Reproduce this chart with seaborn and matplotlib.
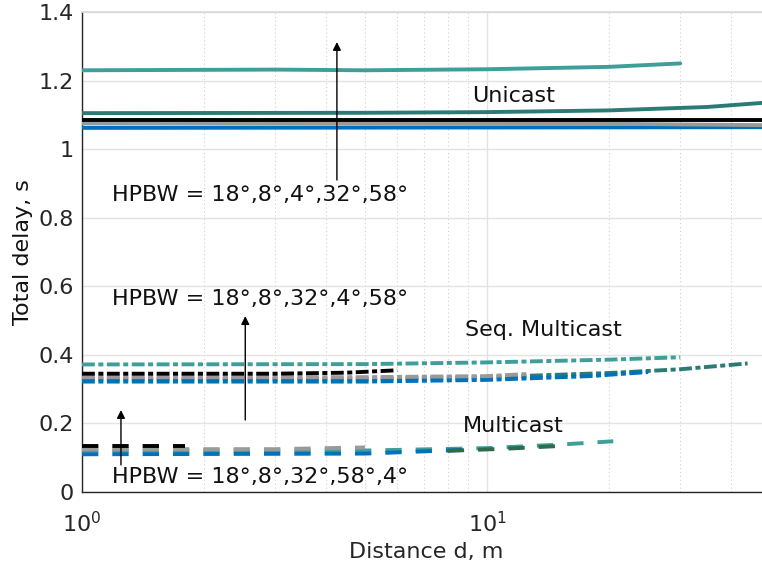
import numpy as np
import pandas as pd
import matplotlib
matplotlib.use("Agg")
import matplotlib.pyplot as plt
import seaborn as sns
from matplotlib.ticker import LogLocator, NullFormatter, FixedLocator

# ---------------- data ----------------
colors = {"teal": "#3d9e9a", "dteal": "#2b7b74", "black": "#000000",
          "gray": "#9a9a9a", "blue": "#0072bd", "dgreen": "#2d6b4c"}

# Unicast (solid)
uni_teal_x = [1, 3, 5, 10, 20, 30]
uni_teal_y = [1.230, 1.232, 1.230, 1.233, 1.240, 1.250]
uni_dteal_x = [1, 5, 10, 20, 35, 48]
uni_dteal_y = [1.105, 1.106, 1.108, 1.113, 1.123, 1.135]
uni_black_x = [1, 48]
uni_black_y = [1.085, 1.085]
uni_gray_x = [1, 20, 48]
uni_gray_y = [1.075, 1.074, 1.070]
uni_blue_x = [1, 48]
uni_blue_y = [1.062, 1.064]

# Seq. Multicast (dash-dot)
seq_teal_x = [1, 5, 10, 20, 30]
seq_teal_y = [0.372, 0.373, 0.378, 0.386, 0.393]
seq_dteal_x = [1, 5, 10, 20, 30, 44]
seq_dteal_y = [0.330, 0.330, 0.335, 0.347, 0.358, 0.375]
seq_black_x = [1, 3, 4.5, 6]
seq_black_y = [0.345, 0.345, 0.348, 0.355]
seq_gray_x = [1, 5, 10, 12.5]
seq_gray_y = [0.335, 0.335, 0.338, 0.344]
seq_blue_x = [1, 5, 10, 18, 25]
seq_blue_y = [0.322, 0.322, 0.327, 0.338, 0.350]

# Multicast (dashed)
mc_teal_x = [1, 5, 10, 15, 20.5]
mc_teal_y = [0.120, 0.121, 0.128, 0.138, 0.148]
mc_black_x = [1, 1.8]
mc_black_y = [0.135, 0.135]
mc_gray_x = [1, 3, 5]
mc_gray_y = [0.125, 0.125, 0.130]
mc_blue_x = [1, 5, 8.8]
mc_blue_y = [0.110, 0.112, 0.123]
mc_dgreen_x = [8, 11, 15]
mc_dgreen_y = [0.120, 0.126, 0.134]

x_ticks = [1, 10]
x_ticklabels = ["$10^0$", "$10^1$"]
y_ticks = [0, 0.2, 0.4, 0.6, 0.8, 1.0, 1.2, 1.4]
y_ticklabels = ["0", "0.2", "0.4", "0.6", "0.8", "1", "1.2", "1.4"]

# ---------------- figure ----------------
sns.set_theme(style="white")
plt.rcParams["font.family"] = ["DejaVu Sans"]

fig = plt.figure(figsize=(7.62, 5.70), dpi=100)
ax = fig.add_axes([82/762, 78/570, (770-82)/762, 480/570])

LW = 2.8
solid = "-"
dashdot = (0, (3.3, 0.9, 1.3, 0.9))
dashed = (0, (4.2, 3.6))

series = [
    (mc_teal_x, mc_teal_y, "teal", dashed),
    (mc_gray_x, mc_gray_y, "gray", dashed),
    (mc_blue_x, mc_blue_y, "blue", dashed),
    (mc_dgreen_x, mc_dgreen_y, "dgreen", dashed),
    (mc_black_x, mc_black_y, "black", dashed),
    (seq_teal_x, seq_teal_y, "teal", dashdot),
    (seq_dteal_x, seq_dteal_y, "dteal", dashdot),
    (seq_blue_x, seq_blue_y, "blue", dashdot),
    (seq_gray_x, seq_gray_y, "gray", dashdot),
    (seq_black_x, seq_black_y, "black", dashdot),
    (uni_teal_x, uni_teal_y, "teal", solid),
    (uni_dteal_x, uni_dteal_y, "dteal", solid),
    (uni_blue_x, uni_blue_y, "blue", solid),
    (uni_gray_x, uni_gray_y, "gray", solid),
    (uni_black_x, uni_black_y, "black", solid),
]
for xs, ys, c, ls in series:
    sns.lineplot(x=xs, y=ys, ax=ax, color=colors[c], linewidth=LW,
                 linestyle=ls, estimator=None, sort=False, zorder=3)

ax.set_xscale("log")
ax.set_xlim(1, 10 ** ((770 - 82) / 405))
ax.set_ylim(0, 1.4)

ax.xaxis.set_major_locator(FixedLocator(x_ticks))
ax.set_xticklabels(x_ticklabels)
ax.xaxis.set_minor_locator(LogLocator(base=10, subs=np.arange(2, 10)))
ax.xaxis.set_minor_formatter(NullFormatter())
ax.set_yticks(y_ticks)
ax.set_yticklabels(y_ticklabels)

ax.tick_params(axis="both", which="major", direction="in", length=6,
               width=1.0, color="#262626", labelsize=16, labelcolor="#262626")
ax.tick_params(axis="x", which="major", pad=14)
ax.tick_params(axis="x", which="minor", direction="in", length=3,
               width=0.8, color="#262626")
ax.tick_params(axis="y", which="major", pad=6)

ax.grid(True, which="major", axis="both", color="#e3e3e3", linewidth=1.0,
        linestyle="-", zorder=0)
ax.grid(True, which="minor", axis="x", color="#cfcfcf", linewidth=0.8,
        linestyle=(0, (1, 2.5)), zorder=0)
ax.set_axisbelow(True)

for s in ["left", "bottom"]:
    ax.spines[s].set_color("#262626")
    ax.spines[s].set_linewidth(1.0)
ax.spines["top"].set_color("#d9d9d9")
ax.spines["right"].set_visible(False)

ax.set_xlabel("Distance d, m", fontsize=16, color="#262626", labelpad=4)
ax.set_ylabel("Total delay, s", fontsize=16, color="#111111", labelpad=4)

# annotations
arrowprops = dict(arrowstyle="-|>", color="black", lw=1.0,
                  mutation_scale=12, shrinkA=0, shrinkB=0)
ax.annotate("", xy=(4.26, 1.3125), xytext=(4.26, 0.91), arrowprops=arrowprops, zorder=5)
ax.annotate("", xy=(2.53, 0.513), xytext=(2.53, 0.21), arrowprops=arrowprops, zorder=5)
ax.annotate("", xy=(1.248, 0.239), xytext=(1.248, 0.079), arrowprops=arrowprops, zorder=5)

tkw = dict(fontsize=16, color="#111111", va="center", ha="left", zorder=6)
ax.text(1.186, 0.866, "HPBW = 18°,8°,4°,32°,58°", **tkw)
ax.text(1.186, 0.563, "HPBW = 18°,8°,32°,4°,58°", **tkw)
ax.text(1.186, 0.044, "HPBW = 18°,8°,32°,58°,4°", **tkw)
ax.text(9.18, 1.155, "Unicast", **tkw)
ax.text(8.83, 0.472, "Seq. Multicast", **tkw)
ax.text(8.72, 0.193, "Multicast", **tkw)

fig.savefig("out.png", dpi=100)
